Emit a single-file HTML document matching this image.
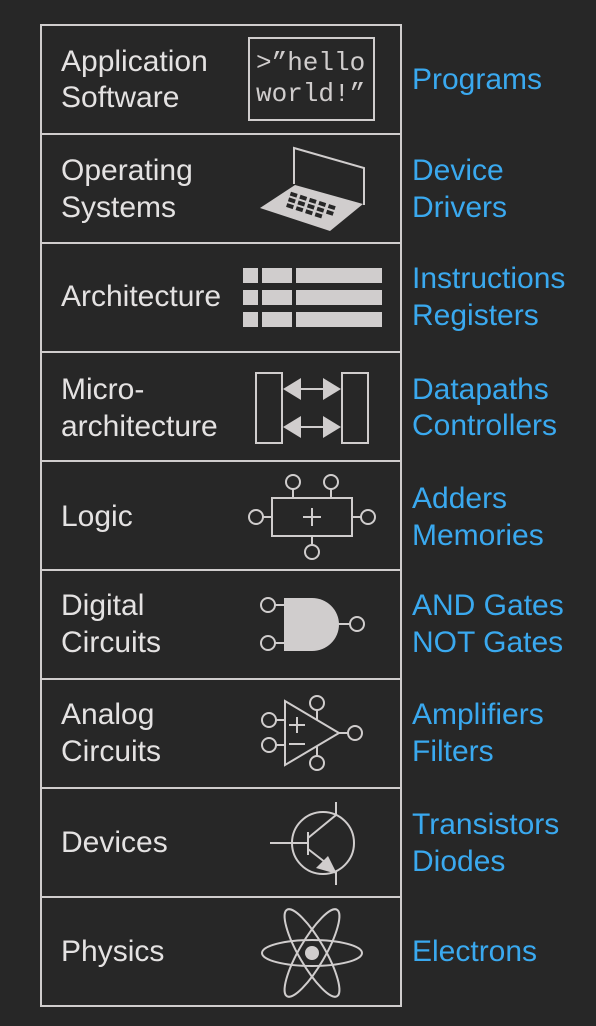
<!DOCTYPE html>
<html><head><style>
html,body{margin:0;padding:0;background:#272727;}
svg{display:block}
text{font-family:"Liberation Sans",sans-serif;font-size:30px;}
.l{fill:#e4e2e2}
.b{fill:#3aa9ef}
.m{font-family:"Liberation Mono","Courier New",monospace;font-size:26px;fill:#d0cdcd}
</style></head><body>
<svg width="596" height="1026" viewBox="0 0 596 1026">
<rect x="0" y="0" width="596" height="1026" fill="#272727"/>
<g stroke="#d0cdcd" stroke-width="2" fill="none">
<rect x="41" y="25" width="360" height="981"/>
<line x1="41" y1="134" x2="401" y2="134"/><line x1="41" y1="243" x2="401" y2="243"/>
<line x1="41" y1="352" x2="401" y2="352"/><line x1="41" y1="461" x2="401" y2="461"/>
<line x1="41" y1="570" x2="401" y2="570"/><line x1="41" y1="679" x2="401" y2="679"/>
<line x1="41" y1="788" x2="401" y2="788"/><line x1="41" y1="897" x2="401" y2="897"/>
<rect x="249" y="38" width="125" height="82"/>
<polyline points="294,184 294,148 364,168 364,205"/>
<rect x="256" y="373" width="26" height="70"/><rect x="342" y="373" width="26" height="70"/>
<line x1="298" y1="389" x2="326" y2="389"/><line x1="298" y1="427" x2="326" y2="427"/>
<rect x="272" y="498" width="80" height="38"/>
<circle cx="293" cy="482" r="7"/><circle cx="331" cy="482" r="7"/>
<circle cx="256" cy="517" r="7"/><circle cx="368" cy="517" r="7"/><circle cx="312" cy="552" r="7"/>
<line x1="293" y1="489" x2="293" y2="498"/><line x1="331" y1="489" x2="331" y2="498"/>
<line x1="263" y1="517" x2="272" y2="517"/><line x1="352" y1="517" x2="361" y2="517"/>
<line x1="312" y1="536" x2="312" y2="545"/>
<line x1="312" y1="508" x2="312" y2="526"/><line x1="303" y1="517" x2="321" y2="517"/>
<circle cx="268" cy="605" r="7"/><circle cx="268" cy="643" r="7"/><circle cx="357" cy="624" r="7"/>
<line x1="275" y1="605" x2="285" y2="605"/><line x1="275" y1="643" x2="285" y2="643"/>
<line x1="338" y1="624" x2="350" y2="624"/>
<polygon points="285,701 285,765 339,733"/>
<circle cx="269" cy="720" r="7"/><circle cx="269" cy="745" r="7"/>
<circle cx="317" cy="703" r="7"/><circle cx="317" cy="763" r="7"/><circle cx="355" cy="733" r="7"/>
<line x1="276" y1="720" x2="285" y2="720"/><line x1="276" y1="745" x2="285" y2="745"/>
<line x1="317" y1="710" x2="317" y2="720"/><line x1="317" y1="746" x2="317" y2="756"/>
<line x1="339" y1="733" x2="348" y2="733"/>
<line x1="297" y1="717" x2="297" y2="733"/><line x1="289" y1="725" x2="305" y2="725"/>
<line x1="289" y1="744" x2="305" y2="744"/>
<circle cx="323" cy="843" r="31"/>
<line x1="270" y1="843" x2="308" y2="843"/>
<line x1="308" y1="832" x2="308" y2="855"/>
<polyline points="308,838 336,815 336,802"/>
<polyline points="308,849 330,866"/>
<line x1="336" y1="872" x2="336" y2="885"/>
<ellipse cx="312" cy="953" rx="50" ry="13"/>
<ellipse cx="312" cy="953" rx="50" ry="13" transform="rotate(60 312 953)"/>
<ellipse cx="312" cy="953" rx="50" ry="13" transform="rotate(-60 312 953)"/>
</g>
<g fill="#d0cdcd">
<polygon points="295,185 363,204 330,231 260,208"/>
<rect x="243" y="268" width="15" height="15"/><rect x="262" y="268" width="30" height="15"/><rect x="296" y="268" width="86" height="15"/>
<rect x="243" y="290" width="15" height="15"/><rect x="262" y="290" width="30" height="15"/><rect x="296" y="290" width="86" height="15"/>
<rect x="243" y="312" width="15" height="15"/><rect x="262" y="312" width="30" height="15"/><rect x="296" y="312" width="86" height="15"/>
<polygon points="283,389 301,378 301,400"/><polygon points="341,389 323,378 323,400"/>
<polygon points="283,427 301,416 301,438"/><polygon points="341,427 323,416 323,438"/>
<path d="M284,598 L312,598 A27,26.5 0 0 1 312,651 L284,651 Z"/>
<polygon points="337,874 316,868 328,856"/>
<circle cx="312" cy="953" r="7"/>
</g>
<g fill="#272727" transform="rotate(18 312 208)">
<rect x="287" y="199" width="7" height="4"/><rect x="297" y="199" width="7" height="4"/><rect x="307" y="199" width="7" height="4"/><rect x="317" y="199" width="7" height="4"/><rect x="327" y="199" width="7" height="4"/>
<rect x="287" y="205" width="7" height="4"/><rect x="297" y="205" width="7" height="4"/><rect x="307" y="205" width="7" height="4"/><rect x="317" y="205" width="7" height="4"/><rect x="327" y="205" width="7" height="4"/>
<rect x="287" y="211" width="7" height="4"/><rect x="297" y="211" width="7" height="4"/><rect x="307" y="211" width="7" height="4"/><rect x="317" y="211" width="7" height="4"/>
</g>
<text class="m" x="256" y="70">&gt;”hello</text>
<text class="m" x="256" y="101">world!”</text>
<text class="l" x="61" y="71">Application</text><text class="l" x="61" y="107">Software</text>
<text class="l" x="61" y="180">Operating</text><text class="l" x="61" y="217">Systems</text>
<text class="l" x="61" y="306">Architecture</text>
<text class="l" x="61" y="399">Micro-</text><text class="l" x="61" y="436">architecture</text>
<text class="l" x="61" y="526">Logic</text>
<text class="l" x="61" y="615">Digital</text><text class="l" x="61" y="652">Circuits</text>
<text class="l" x="61" y="724">Analog</text><text class="l" x="61" y="761">Circuits</text>
<text class="l" x="61" y="852">Devices</text>
<text class="l" x="61" y="961">Physics</text>
<text class="b" x="412" y="89">Programs</text>
<text class="b" x="412" y="180">Device</text><text class="b" x="412" y="217">Drivers</text>
<text class="b" x="412" y="288">Instructions</text><text class="b" x="412" y="325">Registers</text>
<text class="b" x="412" y="399">Datapaths</text><text class="b" x="412" y="435">Controllers</text>
<text class="b" x="412" y="508">Adders</text><text class="b" x="412" y="545">Memories</text>
<text class="b" x="412" y="615">AND Gates</text><text class="b" x="412" y="652">NOT Gates</text>
<text class="b" x="412" y="724">Amplifiers</text><text class="b" x="412" y="761">Filters</text>
<text class="b" x="412" y="834">Transistors</text><text class="b" x="412" y="871">Diodes</text>
<text class="b" x="412" y="961">Electrons</text>
</svg>
</body></html>
